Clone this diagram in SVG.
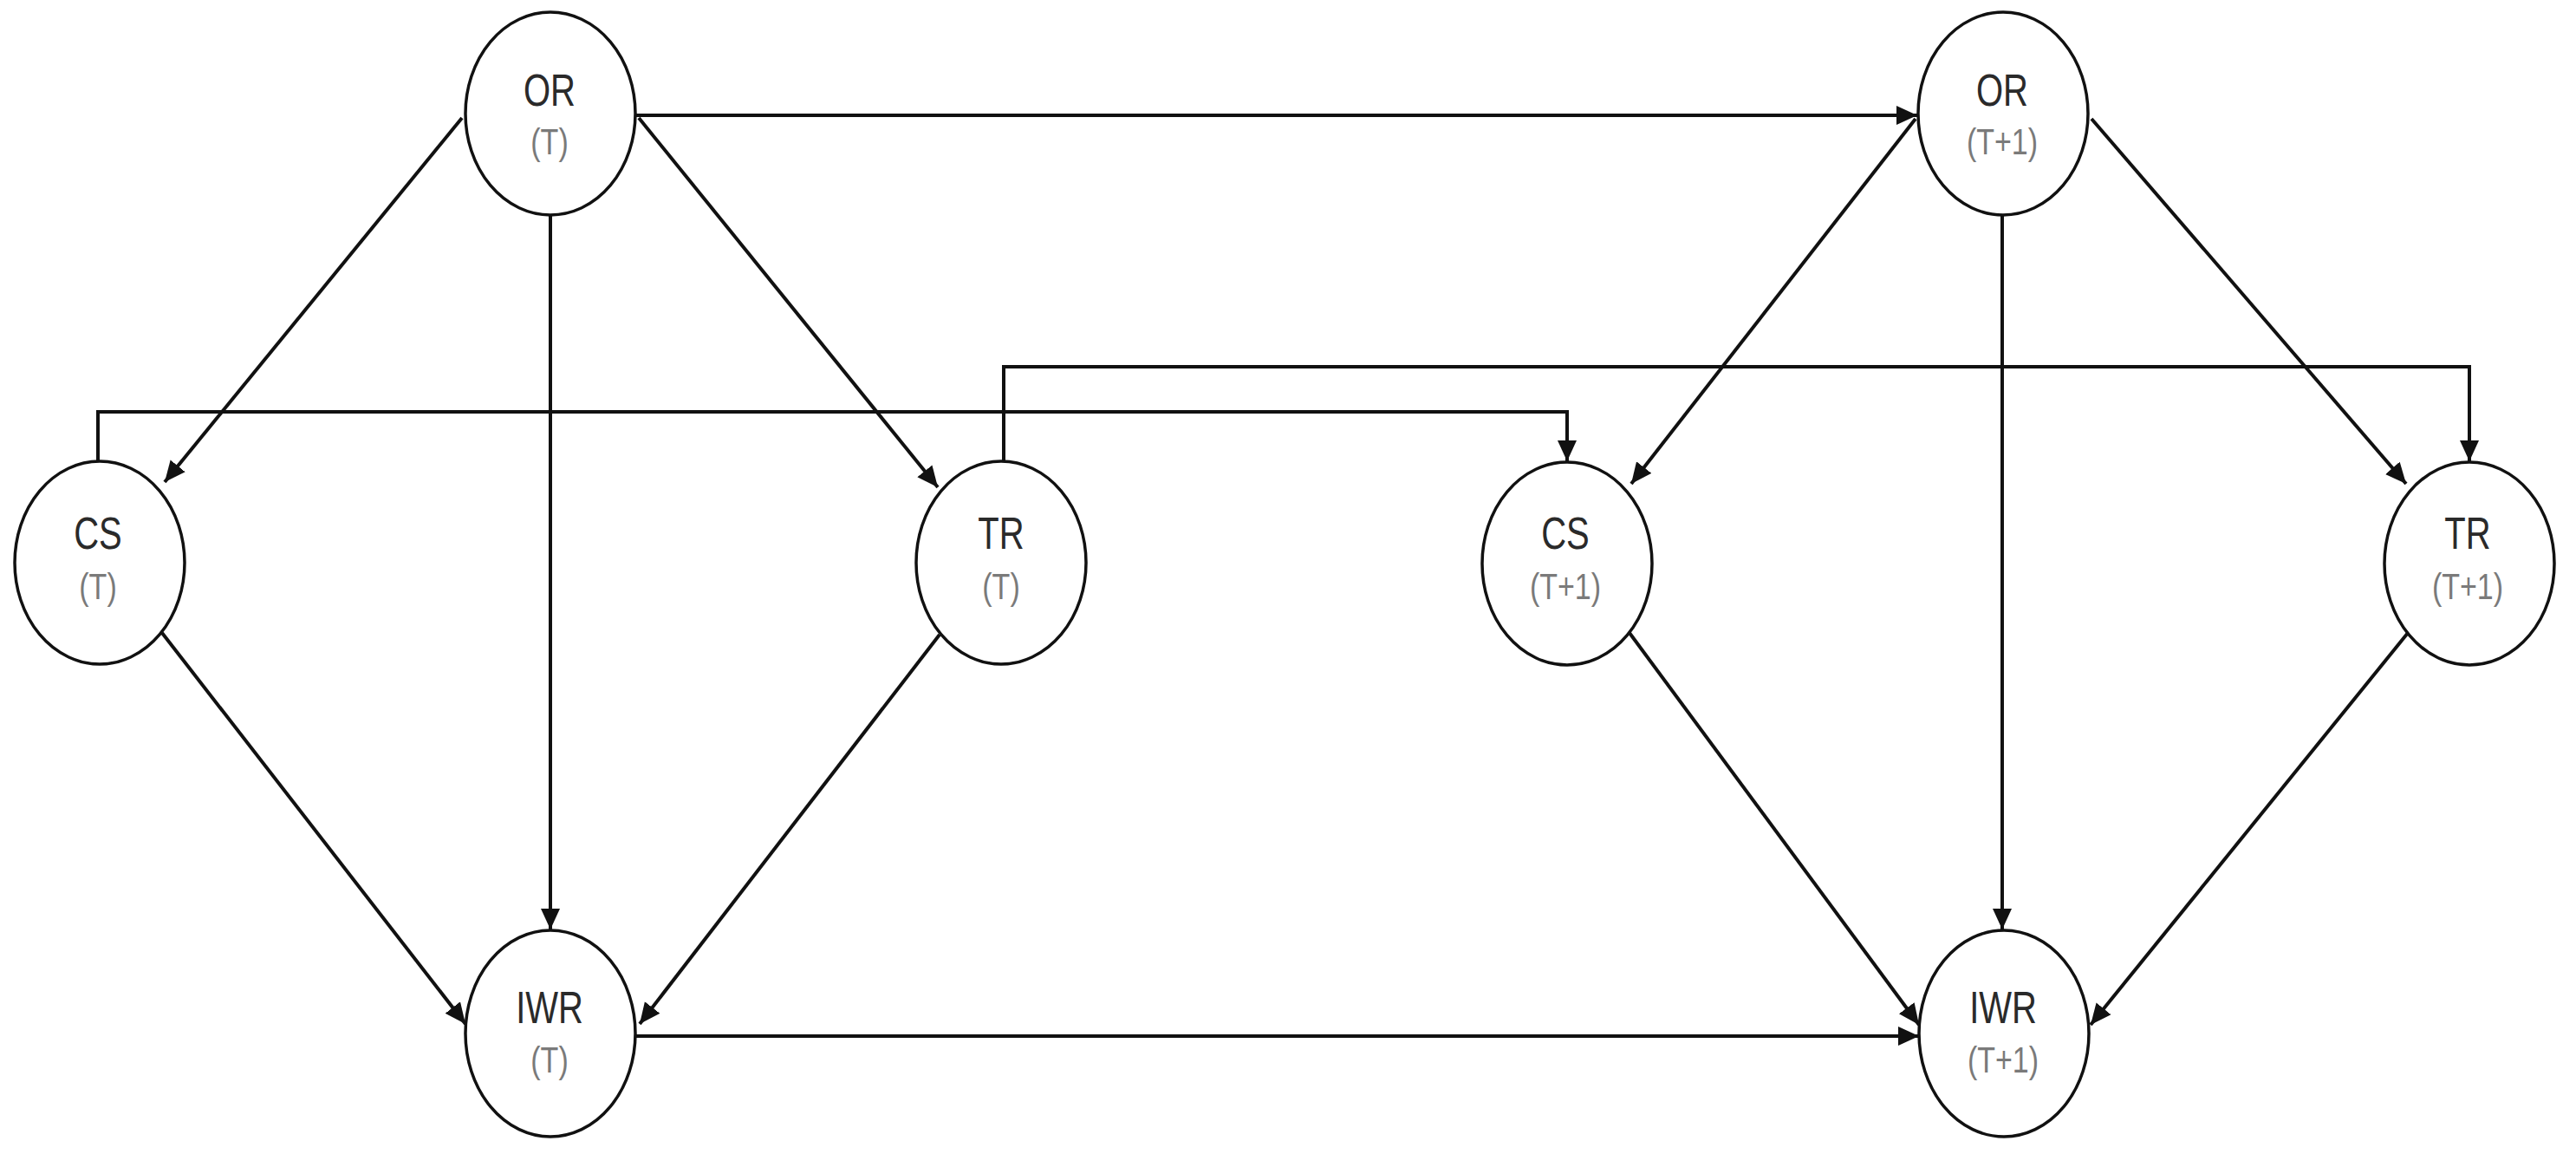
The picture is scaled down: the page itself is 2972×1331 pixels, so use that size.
<svg xmlns="http://www.w3.org/2000/svg" width="2972" height="1331" viewBox="0 0 2972 1331">
<style>
.node ellipse{fill:#fff;stroke:#111;stroke-width:3.5}
.main{font-family:"Liberation Sans",Arial,sans-serif;font-size:40px;fill:#2a2a2a;text-anchor:middle}
.sub{font-family:"Liberation Sans",Arial,sans-serif;font-size:34px;fill:#7a7a7a;text-anchor:middle}
#connectors line,#connectors polyline{fill:none;stroke:#111;stroke-width:4;marker-end:url(#arr)}
</style>
<defs>
<marker id="arr" markerUnits="userSpaceOnUse" markerWidth="26" markerHeight="24" refX="24" refY="11" orient="auto">
<path d="M0,0 L24,11 L0,22 Z" fill="#111"/>
</marker>
</defs>
<rect width="2972" height="1331" fill="#fff"/>
<g id="connectors">
<line x1="733" y1="133" x2="2212" y2="133"/>
<line x1="733" y1="1195" x2="2214" y2="1195"/>
<line x1="635" y1="249" x2="635" y2="1072"/>
<line x1="2310" y1="249" x2="2310" y2="1072"/>
<line x1="533" y1="136" x2="190" y2="556"/>
<line x1="737" y1="136" x2="1082" y2="562"/>
<line x1="2210" y1="137" x2="1882" y2="558"/>
<line x1="2413" y1="137" x2="2776" y2="558"/>
<line x1="187" y1="730" x2="537" y2="1181"/>
<line x1="1084" y1="732" x2="738" y2="1181"/>
<line x1="1880" y1="730" x2="2214" y2="1182"/>
<line x1="2778" y1="730" x2="2412" y2="1182"/>
<polyline points="113,531 113,475 1808,475 1808,532"/>
<polyline points="1158,531 1158,423 2849,423 2849,532"/>
</g>
<g id="OR_T" class="node"><ellipse cx="635" cy="131" rx="98" ry="117"/>
<text class="main" transform="translate(634,122) scale(1,1.3)">OR</text>
<text class="sub" transform="translate(634,178) scale(1,1.25)">(T)</text></g>
<g id="OR_T1" class="node"><ellipse cx="2311" cy="131" rx="98" ry="117"/>
<text class="main" transform="translate(2310,122) scale(1,1.3)">OR</text>
<text class="sub" transform="translate(2310,178) scale(1,1.25)">(T+1)</text></g>
<g id="CS_T" class="node"><ellipse cx="115" cy="649" rx="98" ry="117"/>
<text class="main" transform="translate(113,633) scale(1,1.3)">CS</text>
<text class="sub" transform="translate(113,691) scale(1,1.25)">(T)</text></g>
<g id="TR_T" class="node"><ellipse cx="1155" cy="649" rx="98" ry="117"/>
<text class="main" transform="translate(1155,633) scale(1,1.3)">TR</text>
<text class="sub" transform="translate(1155,691) scale(1,1.25)">(T)</text></g>
<g id="CS_T1" class="node"><ellipse cx="1808" cy="650" rx="98" ry="117"/>
<text class="main" transform="translate(1806,633) scale(1,1.3)">CS</text>
<text class="sub" transform="translate(1806,691) scale(1,1.25)">(T+1)</text></g>
<g id="TR_T1" class="node"><ellipse cx="2849" cy="650" rx="98" ry="117"/>
<text class="main" transform="translate(2847,633) scale(1,1.3)">TR</text>
<text class="sub" transform="translate(2847,691) scale(1,1.25)">(T+1)</text></g>
<g id="IWR_T" class="node"><ellipse cx="635" cy="1192" rx="98" ry="119"/>
<text class="main" transform="translate(634,1180) scale(1,1.3)">IWR</text>
<text class="sub" transform="translate(634,1237) scale(1,1.25)">(T)</text></g>
<g id="IWR_T1" class="node"><ellipse cx="2312" cy="1192" rx="98" ry="119"/>
<text class="main" transform="translate(2311,1180) scale(1,1.3)">IWR</text>
<text class="sub" transform="translate(2311,1237) scale(1,1.25)">(T+1)</text></g>
</svg>
